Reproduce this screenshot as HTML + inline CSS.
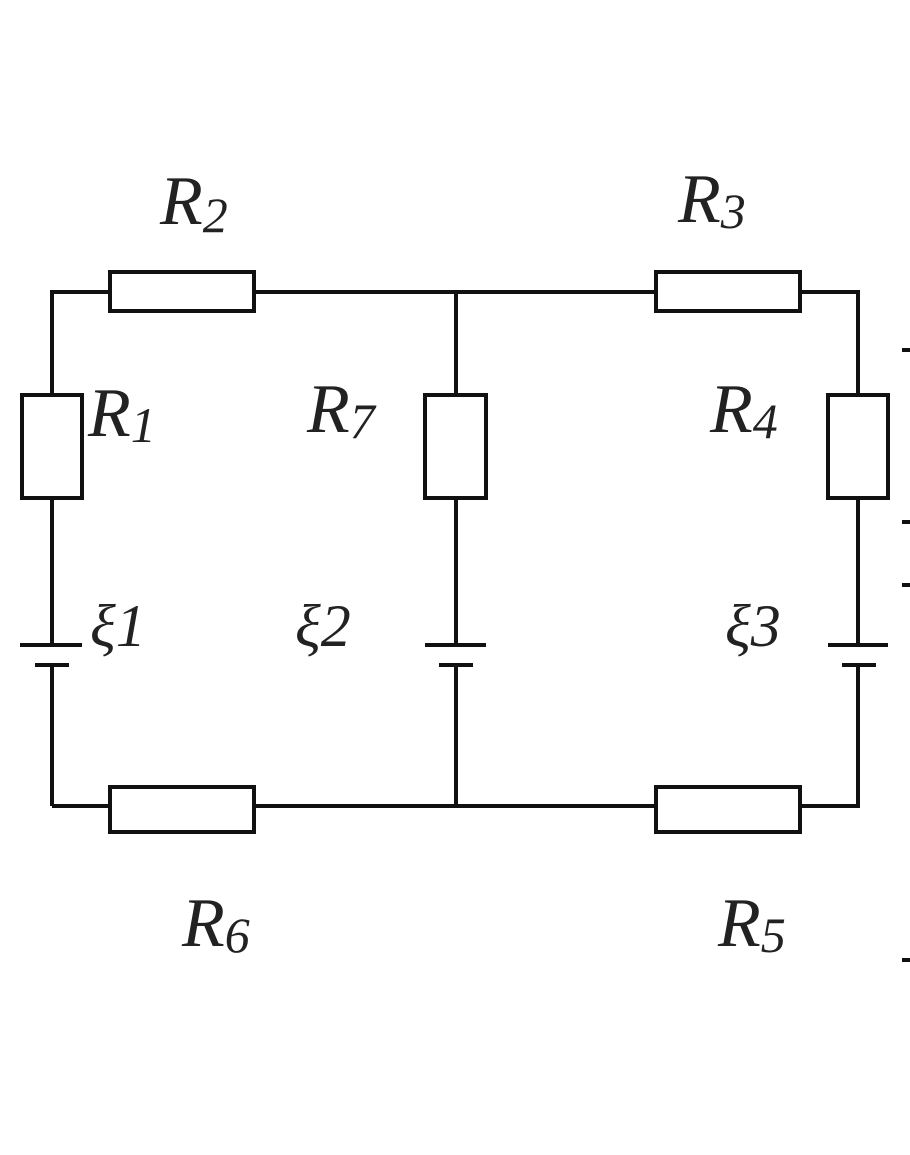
<!DOCTYPE html>
<html><head><meta charset="utf-8"><style>
html,body{margin:0;padding:0;background:#fff;}
svg{display:block}
text{font-family:"Liberation Serif",serif;font-style:italic;fill:#222;}
</style></head><body>
<svg width="910" height="1155" viewBox="0 0 910 1155" xmlns="http://www.w3.org/2000/svg">
<g stroke="#111" stroke-width="4" fill="#fff">
<polyline fill="none" points="110,292 52,292 52,395"/>
<line x1="254" y1="292" x2="656" y2="292"/>
<polyline fill="none" points="800,292 858,292 858,395"/>
<line x1="52" y1="498" x2="52" y2="645"/>
<line x1="52" y1="665" x2="52" y2="806"/>
<line x1="52" y1="806" x2="110" y2="806"/>
<line x1="254" y1="806" x2="656" y2="806"/>
<polyline fill="none" points="800,806 858,806 858,665"/>
<line x1="858" y1="498" x2="858" y2="645"/>
<line x1="456" y1="292" x2="456" y2="395"/>
<line x1="456" y1="498" x2="456" y2="645"/>
<line x1="456" y1="665" x2="456" y2="806"/>
<rect x="110" y="272" width="144" height="39"/>
<rect x="656" y="272" width="144" height="39"/>
<rect x="110" y="787" width="144" height="45"/>
<rect x="656" y="787" width="144" height="45"/>
<rect x="22" y="395" width="60" height="103"/>
<rect x="425" y="395" width="61" height="103"/>
<rect x="828" y="395" width="60" height="103"/>
<line x1="20" y1="645" x2="82" y2="645"/>
<line x1="35" y1="665" x2="69" y2="665"/>
<line x1="425" y1="645" x2="486" y2="645"/>
<line x1="439" y1="665" x2="473" y2="665"/>
<line x1="828" y1="645" x2="888" y2="645"/>
<line x1="842" y1="665" x2="876" y2="665"/>
<line x1="902" y1="350" x2="910" y2="350"/>
<line x1="902" y1="522" x2="910" y2="522"/>
<line x1="902" y1="585" x2="910" y2="585"/>
<line x1="902" y1="960" x2="910" y2="960"/>
</g>
<g font-size="70">
<text x="160" y="224">R<tspan font-size="50" dy="8">2</tspan></text>
<text x="678" y="222">R<tspan font-size="50" dy="6">3</tspan></text>
<text x="88" y="436">R<tspan font-size="50" dy="6">1</tspan></text>
<text x="307" y="432">R<tspan font-size="50" dy="6">7</tspan></text>
<text x="710" y="432">R<tspan font-size="50" dy="6">4</tspan></text>
<text x="182" y="946">R<tspan font-size="50" dy="6">6</tspan></text>
<text x="718" y="946">R<tspan font-size="50" dy="6">5</tspan></text>
</g>
<g font-size="60" fill="#444">
<text x="90" y="646">ξ1</text>
<text x="295" y="646">ξ2</text>
<text x="725" y="646">ξ3</text>
</g>
</svg>
</body></html>
